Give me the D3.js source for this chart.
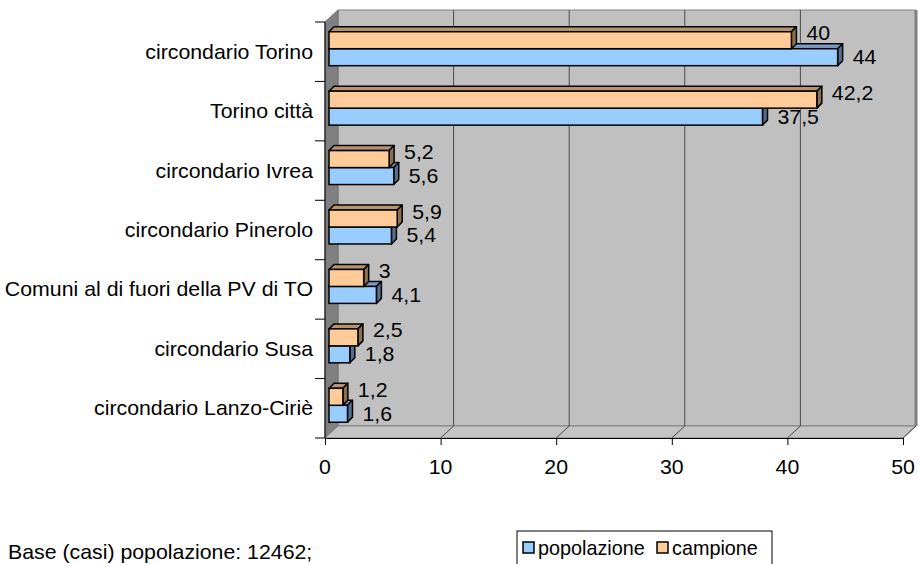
<!DOCTYPE html>
<html><head><meta charset="utf-8">
<script src="https://cdn.jsdelivr.net/npm/d3@7"></script>
<style>
html,body{margin:0;padding:0;background:#fff;}
text{font-family:"Liberation Sans",Arial,sans-serif;fill:#000;}
</style></head>
<body>
<svg id="chart" width="918" height="564"></svg>
<script>
const categories = ["circondario Torino","Torino città","circondario Ivrea","circondario Pinerolo","Comuni al di fuori della PV di TO","circondario Susa","circondario Lanzo-Ciriè"];
const popolazione = [44, 37.5, 5.6, 5.4, 4.1, 1.8, 1.6];
const campione = [40, 42.2, 5.2, 5.9, 3, 2.5, 1.2];
const labelsPop = ["44","37,5","5,6","5,4","4,1","1,8","1,6"];
const labelsCamp = ["40","42,2","5,2","5,9","3","2,5","1,2"];
const xTicks = [0,10,20,30,40,50];
const seriesNames = ["popolazione","campione"];
const baseNote = "Base (casi) popolazione: 12462;";

const svg = d3.select("#chart");
const SX = 1.065, FS = 20;
const L = 325, R = 903, T = 22, B = 438;  // front plane
const DX = 13, DY = -12;                  // wall depth
const x = d3.scaleLinear().domain([0,50]).range([L, R]);
const y = d3.scaleBand().domain(categories).range([T, B]).paddingInner(0).paddingOuter(0);
const xv = d3.scaleLinear().domain([0,50]).range([0, R-L]);

function txt(g, s, px, py, anchor, sx){
  return g.append("text").attr("transform",`translate(${px},${py}) scale(${sx||SX},1)`)
    .attr("text-anchor",anchor||"start").attr("dy","0.35em").attr("font-size",FS).text(s);
}

// walls
const pts = a => a.map(p=>p.join(",")).join(" ");
svg.append("polygon").attr("points",pts([[L+DX,T+DY],[R+DX,T+DY],[R+DX,B+DY],[L+DX,B+DY]]))
  .attr("fill","#c0c0c0").attr("stroke","#808080").attr("stroke-width",1);
svg.append("line").attr("x1",R+DX).attr("x2",R+DX).attr("y1",T+DY).attr("y2",B+DY).attr("stroke","#808080").attr("stroke-width",3);
svg.append("polygon").attr("points",pts([[L,T],[L+DX,T+DY],[L+DX,B+DY],[L,B]]))
  .attr("fill","#808080").attr("stroke","#707070").attr("stroke-width",1);
svg.append("polygon").attr("points",pts([[L,B],[L+DX,B+DY],[R+DX,B+DY],[R,B]]))
  .attr("fill","#c4c4c4").attr("stroke","#808080").attr("stroke-width",1);

// gridlines on back wall and floor
xTicks.filter(v=>v>0 && v<50).forEach(v=>{
  svg.append("line").attr("x1",x(v)+DX).attr("x2",x(v)+DX).attr("y1",T+DY).attr("y2",B+DY).attr("stroke","#4a4a4a").attr("stroke-width",1);
});
xTicks.filter(v=>v>0).forEach(v=>{
  svg.append("line").attr("x1",x(v)).attr("x2",x(v)+DX).attr("y1",B).attr("y2",B+DY).attr("stroke","#4a4a4a").attr("stroke-width",1);
});

// axes
const xAxis = d3.axisBottom(x).tickValues(xTicks).tickSize(7).tickFormat("");
const gx = svg.append("g").attr("transform",`translate(0,${B})`).call(xAxis);
gx.select(".domain").attr("stroke","#000");
gx.selectAll(".tick line").attr("stroke","#000");
xTicks.forEach(v=> txt(svg, String(v), x(v), 467, "middle"));

svg.append("line").attr("x1",L).attr("x2",L).attr("y1",T).attr("y2",B).attr("stroke","#000");
categories.concat(["_end"]).forEach((c,i)=>{
  const yy = T + i*y.bandwidth();
  svg.append("line").attr("x1",L-10).attr("x2",L).attr("y1",yy).attr("y2",yy).attr("stroke","#000");
});
categories.forEach(c=> txt(svg, c, 313, y(c)+y.bandwidth()/2, "end"));

// bars
const bw = y.bandwidth()/3.5, gap = bw*1.5;
const fx = 4, fy = -3, dd = 5;
const cols = {
  popolazione:{front:"#99ccff", top:"#7a9cc0", side:"#52708e"},
  campione:{front:"#ffcc99", top:"#b8946c", side:"#8c6e50"}
};
function bar(g, v, y0, c){
  const x0 = L+fx, x1 = L+fx+xv(v), y1 = y0+bw;
  g.append("polygon").attr("points",pts([[x0,y0],[x0+dd,y0-dd],[x1+dd,y0-dd],[x1,y0]]))
    .attr("fill",c.top).attr("stroke","#000").attr("stroke-width",1.5).attr("stroke-linejoin","round");
  g.append("polygon").attr("points",pts([[x1,y0],[x1+dd,y0-dd],[x1+dd,y1-dd],[x1,y1]]))
    .attr("fill",c.side).attr("stroke","#000").attr("stroke-width",1.5).attr("stroke-linejoin","round");
  g.append("rect").attr("x",x0).attr("y",y0).attr("width",x1-x0).attr("height",bw)
    .attr("fill",c.front).attr("stroke","#000").attr("stroke-width",1.5);
}
const gb = svg.append("g");
categories.forEach((c,i)=>{
  const top = y(c) + gap/2 + fy;
  bar(gb, popolazione[i], top+bw, cols.popolazione);
  bar(gb, campione[i], top, cols.campione);
});
categories.forEach((c,i)=>{
  const top = y(c) + gap/2 + fy;
  txt(svg, labelsCamp[i], L+fx+xv(campione[i])+dd+10, top+bw/2-7, "start");
  txt(svg, labelsPop[i], L+fx+xv(popolazione[i])+dd+10, top+bw*1.5, "start");
});

// footnote
txt(svg, baseNote, 8, 552, "start");

// legend
const lg = svg.append("g");
lg.append("rect").attr("x",517).attr("y",531).attr("width",255).attr("height",45)
  .attr("fill","#fff").attr("stroke","#000").attr("stroke-width",1);
const legX = [523, 657];
seriesNames.forEach((s,i)=>{
  lg.append("rect").attr("x",legX[i]).attr("y",542).attr("width",11).attr("height",11)
    .attr("fill",cols[s].front).attr("stroke","#000").attr("stroke-width",1.5);
  txt(lg, s, legX[i]+15, 548, "start", 0.99);
});
</script>
</body></html>
